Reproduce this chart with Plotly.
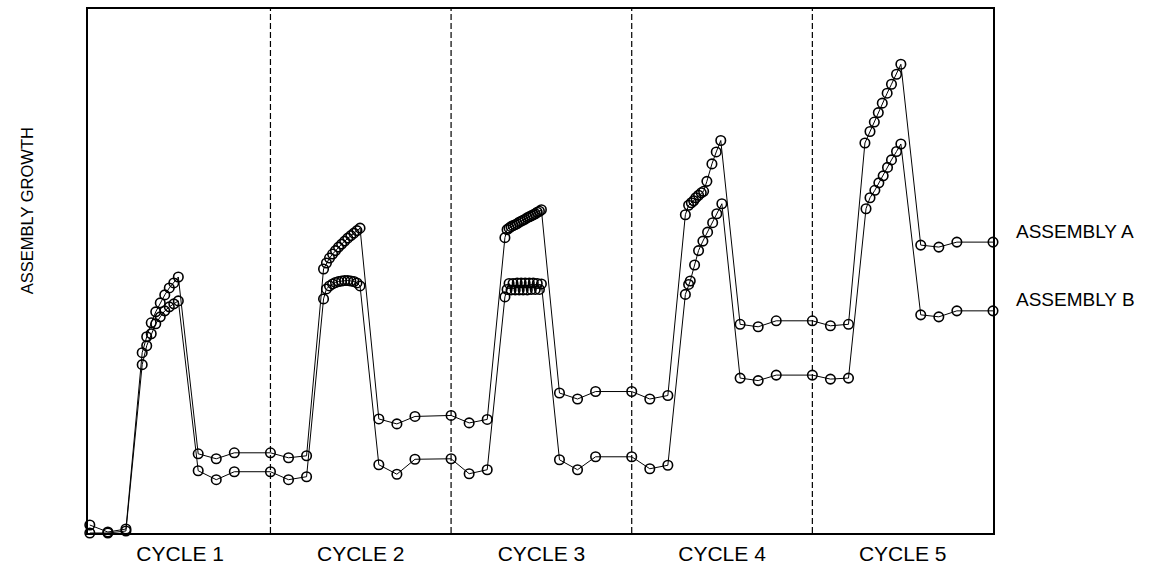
import plotly.graph_objects as go

# ---------------- data (x = time units, y = growth, arbitrary units) ----------------
start_x = [0, 1, 2]
start_a = [1.6, 0.2, 0.8]
start_b = [0.0, 0.0, 0.4]

ramp1_x = [2.9, 3.15, 3.4, 3.65, 3.9, 4.15, 4.4, 4.65, 4.9]
ramp1_a = [36.2, 39.4, 42.2, 44.4, 46.2, 47.8, 49.2, 50.2, 51.4]
ramp1_b = [33.8, 37.6, 40.0, 42.0, 43.4, 44.6, 45.4, 46.0, 46.6]
plat1_x = [6, 7, 8, 10, 11, 12]
plat1_a = [15.9, 14.9, 16.1, 16.1, 15.1, 15.5]
plat1_b = [12.5, 10.7, 12.3, 12.3, 10.7, 11.3]

ramp2_x = [12.94, 13.1, 13.27, 13.44, 13.6, 13.77, 13.94, 14.11, 14.28, 14.45, 14.62, 14.79, 14.96]
ramp2_a = [53.0, 54.2, 55.2, 56.0, 56.7, 57.4, 58.0, 58.6, 59.2, 59.7, 60.2, 60.7, 61.2]
ramp2_b = [47.0, 49.0, 49.6, 50.0, 50.3, 50.5, 50.6, 50.7, 50.7, 50.6, 50.5, 50.2, 49.6]
plat2_x = [16, 17, 18, 20, 21, 22]
plat2_a = [22.9, 21.9, 23.4, 23.6, 22.1, 22.8]
plat2_b = [13.7, 11.8, 14.8, 14.9, 11.9, 12.7]

ramp3_x = [22.98, 23.1, 23.21, 23.32, 23.43, 23.55, 23.66, 23.77, 23.88, 23.99,
           24.1, 24.22, 24.33, 24.44, 24.55, 24.66, 24.77, 24.89, 25.0]
ramp3_a = [59.3, 60.9, 61.2, 61.5, 61.7, 61.9, 62.1, 62.4, 62.6, 62.8,
           63.0, 63.3, 63.5, 63.7, 63.9, 64.1, 64.4, 64.6, 64.9]
ramp3_b = [47.4, 48.9, 50.1, 48.8, 50.1, 48.8, 50.2, 48.8, 50.2, 48.8,
           50.2, 48.8, 50.2, 48.9, 50.2, 48.9, 50.1, 48.9, 50.0]
plat3_x = [26, 27, 28, 30, 31, 32]
plat3_a = [28.1, 26.9, 28.4, 28.4, 26.9, 27.6]
plat3_b = [14.7, 12.7, 15.3, 15.3, 12.9, 13.6]

ramp4_xa = [32.97, 33.15, 33.3, 33.43, 33.55, 33.7, 33.85, 33.98, 34.16, 34.44, 34.68, 34.93]
ramp4_a = [63.9, 65.8, 66.3, 66.7, 67.3, 67.8, 68.3, 68.6, 70.6, 74.1, 76.5, 78.8]
ramp4_xb = [32.97, 33.15, 33.24, 33.48, 33.7, 33.94, 34.2, 34.48, 34.71, 34.99]
ramp4_b = [47.9, 49.9, 50.6, 53.8, 56.7, 58.6, 60.4, 62.3, 64.1, 66.1]
plat4_x = [36, 37, 38, 40, 41, 42]
plat4_a = [41.9, 41.4, 42.6, 42.6, 41.6, 41.9]
plat4_b = [31.1, 30.6, 31.7, 31.7, 30.9, 31.1]

ramp5_xa = [42.91, 43.19, 43.43, 43.65, 43.87, 44.14, 44.38, 44.66, 44.9]
ramp5_a = [78.3, 80.6, 82.5, 84.4, 86.3, 88.3, 90.1, 92.1, 94.1]
ramp5_xb = [42.97, 43.19, 43.46, 43.68, 43.92, 44.16, 44.38, 44.66, 44.9]
ramp5_b = [65.1, 67.3, 68.8, 70.3, 71.7, 73.4, 74.9, 76.6, 78.1]
plat5_x = [46, 47, 48, 50]
plat5_a = [57.8, 57.4, 58.4, 58.4]
plat5_b = [43.8, 43.4, 44.6, 44.6]

cycle_labels = ["CYCLE 1", "CYCLE 2", "CYCLE 3", "CYCLE 4", "CYCLE 5"]
cycle_centers = [5, 15, 25, 35, 45]
cycle_bounds = [10, 20, 30, 40]
series_names = ["ASSEMBLY A", "ASSEMBLY B"]
y_title = "ASSEMBLY GROWTH"

# ---------------- assemble series ----------------
xa = start_x + ramp1_x + plat1_x + ramp2_x + plat2_x + ramp3_x + plat3_x + ramp4_xa + plat4_x + ramp5_xa + plat5_x
ya = start_a + ramp1_a + plat1_a + ramp2_a + plat2_a + ramp3_a + plat3_a + ramp4_a + plat4_a + ramp5_a + plat5_a
xb = start_x + ramp1_x + plat1_x + ramp2_x + plat2_x + ramp3_x + plat3_x + ramp4_xb + plat4_x + ramp5_xb + plat5_x
yb = start_b + ramp1_b + plat1_b + ramp2_b + plat2_b + ramp3_b + plat3_b + ramp4_b + plat4_b + ramp5_b + plat5_b

FONT = "Liberation Sans, Arial, sans-serif"

fig = go.Figure()
for name, xs, ys in [(series_names[0], xa, ya), (series_names[1], xb, yb)]:
    fig.add_trace(go.Scatter(
        x=xs, y=ys, name=name, mode="lines+markers",
        line=dict(color="black", width=1),
        marker=dict(symbol="circle-open", size=9.5, color="black", line=dict(width=1.6)),
        cliponaxis=False, showlegend=False,
    ))

for xb_ in cycle_bounds:
    fig.add_shape(type="line", xref="x", yref="paper", x0=xb_, x1=xb_, y0=0, y1=1,
                  line=dict(color="black", width=1.2, dash="6px,3px"), layer="below")

# series labels at right end
for name, ys in [(series_names[0], ya), (series_names[1], yb)]:
    fig.add_annotation(x=50, y=ys[-1], xref="x", yref="y", text=name, showarrow=False,
                       xanchor="left", yanchor="middle", xshift=21, yshift=11,
                       font=dict(family=FONT, size=19, color="black"))

# y-axis title
fig.add_annotation(x=0, y=0.614, xref="paper", yref="paper", text=y_title, showarrow=False,
                   textangle=-90, xanchor="center", yanchor="middle", xshift=-61,
                   font=dict(family=FONT, size=16.5, color="black"))

fig.update_layout(
    width=1161, height=584,
    margin=dict(l=88, r=168, t=7, b=51),
    paper_bgcolor="white", plot_bgcolor="white",
    font=dict(family=FONT, color="black"),
    hovermode=False,
)
fig.update_xaxes(range=[-0.1, 50], showgrid=False, zeroline=False, showline=True, mirror=True,
                 linecolor="black", linewidth=1.6, ticks="", tickvals=cycle_centers,
                 ticktext=cycle_labels, tickfont=dict(family=FONT, size=21, color="black"),
                 ticklabelstandoff=1)
fig.update_yaxes(range=[0, 105.2], showgrid=False, zeroline=False, showline=True, mirror=True,
                 linecolor="black", linewidth=1.6, ticks="", showticklabels=False)

fig.write_html("out.html", config={"displayModeBar": False, "staticPlot": True},
               post_script="document.body.style.margin='0px';document.body.style.overflow='hidden';")
